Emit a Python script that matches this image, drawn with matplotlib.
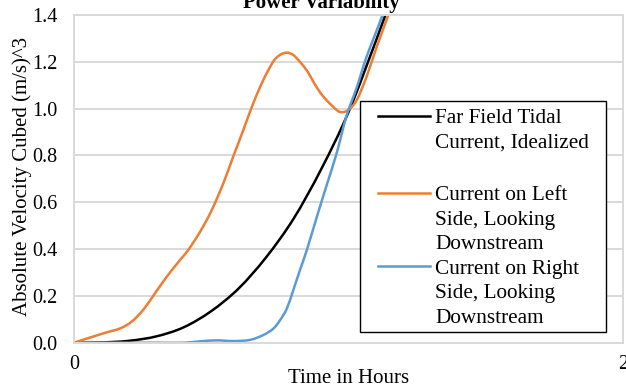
import matplotlib
matplotlib.use("Agg")
import matplotlib.pyplot as plt
from matplotlib.path import Path
from matplotlib.patches import PathPatch, Rectangle
from matplotlib.lines import Line2D

# values
hours_far = [0, 0.1, 0.2, 0.3, 0.4, 0.5, 0.6, 0.7, 0.8, 0.9, 1.0, 1.1, 1.15, 1.2]
vel_far = [0, 0.001, 0.008, 0.027, 0.066, 0.135, 0.232, 0.365, 0.530, 0.740, 0.985,
           1.290, 1.450, 1.600]

hours_left = [0, 0.107, 0.168, 0.210, 0.252, 0.295, 0.338, 0.386, 0.416, 0.460, 0.502,
              0.544, 0.580, 0.617, 0.653, 0.690, 0.726, 0.750, 0.775, 0.799, 0.823,
              0.850, 0.872, 0.896, 0.921, 0.957, 0.975, 0.999, 1.030, 1.066, 1.103,
              1.145, 1.18]
vel_left = [0, 0.040, 0.061, 0.090, 0.140, 0.211, 0.282, 0.353, 0.396, 0.475, 0.567,
            0.681, 0.795, 0.909, 1.023, 1.123, 1.201, 1.229, 1.239, 1.229, 1.200,
            1.160, 1.115, 1.070, 1.035, 0.994, 0.985, 0.994, 1.037, 1.137, 1.265,
            1.400, 1.520]

hours_right = [0, 0.15, 0.30, 0.40, 0.46, 0.52, 0.58, 0.641, 0.690, 0.726, 0.750,
               0.775, 0.799, 0.823, 0.848, 0.884, 0.921, 0.957, 0.993, 1.030, 1.066,
               1.124, 1.16]
vel_right = [0, 0, 0, 0, 0.006, 0.010, 0.007, 0.012, 0.033, 0.060, 0.095,
             0.145, 0.225, 0.310, 0.395, 0.535, 0.675, 0.810, 0.970, 1.090, 1.222,
             1.400, 1.530]

labels = [["Far Field Tidal", "Current, Idealized"],
          ["Current on Left", "Side, Looking", "Downstream"],
          ["Current on Right", "Side, Looking", "Downstream"]]
colors = ["black", "#ED7D31", "#5B9BD5"]
yticks = [0, 0.2, 0.4, 0.6, 0.8, 1.0, 1.2, 1.4]

plt.rcParams['font.family'] = ['Liberation Serif', 'DejaVu Serif']


def smooth_path(x, y):
    # excel-style smoothed line (catmull-rom as bezier)
    pts = list(zip(x, y))
    verts = [pts[0]]
    codes = [Path.MOVETO]
    n = len(pts)
    for i in range(n - 1):
        p0 = pts[i - 1] if i > 0 else pts[i]
        p1 = pts[i]
        p2 = pts[i + 1]
        p3 = pts[i + 2] if i + 2 < n else pts[i + 1]
        c1 = (p1[0] + (p2[0] - p0[0]) / 6, p1[1] + (p2[1] - p0[1]) / 6)
        c2 = (p2[0] - (p3[0] - p1[0]) / 6, p2[1] - (p3[1] - p1[1]) / 6)
        verts += [c1, c2, p2]
        codes += [Path.CURVE4] * 3
    return Path(verts, codes)


W, H = 626, 387
fig = plt.figure(figsize=(W / 100, H / 100), dpi=100)
ax = fig.add_axes([74 / W, 1 - 342.7 / H, 549 / W, 327.7 / H])

series = [(hours_far, vel_far), (hours_left, vel_left), (hours_right, vel_right)]
for (x, y), c in zip(series, colors):
    ax.add_patch(PathPatch(smooth_path(x, y), fill=False, edgecolor=c, lw=1.8,
                           joinstyle='round', capstyle='round'))

ax.set_xlim(0, 2)
ax.set_ylim(0, 1.4)
ax.set_xticks([0, 2])
ax.set_xticklabels(["0", "2"])
ax.set_yticks(yticks)
ax.set_yticklabels(["%.1f" % v for v in yticks])
ax.tick_params(length=0, labelsize=14.5)
ax.tick_params(axis='x', pad=9)
ax.tick_params(axis='y', pad=12)
ax.grid(axis='y', color='#d9d9d9', lw=1.4)
ax.set_axisbelow(True)
for s in ax.spines.values():
    s.set_color('#d9d9d9')
    s.set_linewidth(1.4)

ax.set_xlabel("Time in Hours", fontsize=15)
ax.xaxis.label.set_verticalalignment('baseline')
ax.xaxis.set_label_coords((349 - 74) / 549, (342.7 - 383) / 327.7)
ax.set_ylabel("Absolute Velocity Cubed (m/s)^3", fontsize=15)
ax.yaxis.set_label_coords((32 - 74) / 549, 0.507)

fig.text(321 / W, 1 - 8 / H, "Power Variability", ha='center', va='baseline',
         fontsize=15, fontweight='bold')

# legend drawn by hand so each key lines up with the first text line (as in Excel)
def fx(px):
    return px / W


def fy(py):
    return 1 - py / H


fig.patches.append(Rectangle((fx(360), fy(332)), fx(606) - fx(360), fy(101) - fy(332),
                             transform=fig.transFigure, fill=True, facecolor='white',
                             edgecolor='black', lw=1.0, zorder=5))
baseline = 123.3
step = 24.5
for lines, c in zip(labels, colors):
    fig.lines.append(Line2D([fx(378), fx(430)], [fy(baseline - 7.5)] * 2,
                            transform=fig.transFigure, color=c, lw=1.8, zorder=6))
    for t in lines:
        fig.text(fx(435), fy(baseline), t, ha='left', va='baseline', fontsize=15.3,
                 zorder=6)
        baseline += step
    if len(lines) == 2:
        baseline += step * 1.15

fig.savefig("out.png", dpi=100)
